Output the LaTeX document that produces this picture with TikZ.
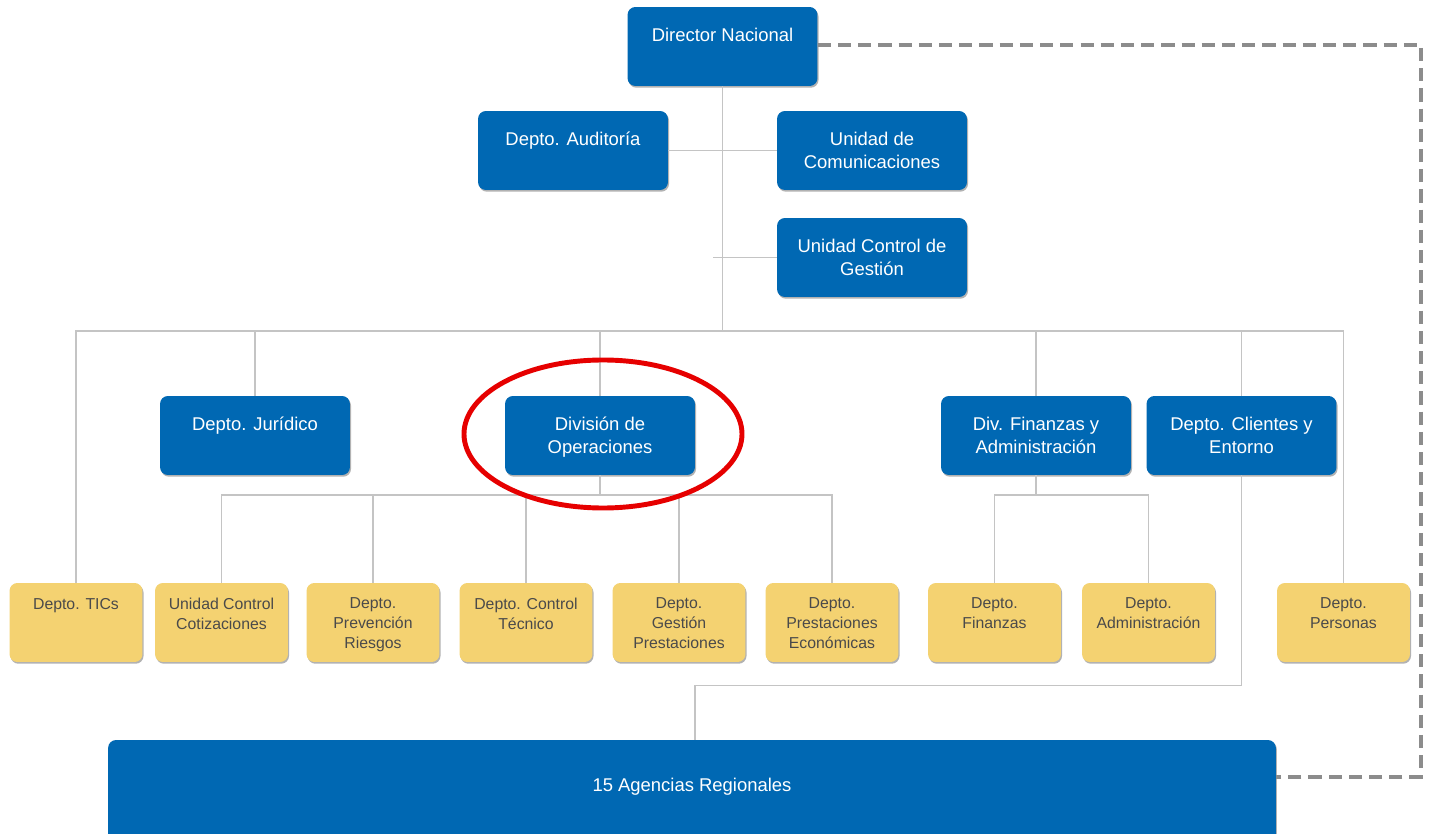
\documentclass[tikz,border=0pt]{standalone}
\usepackage{fontspec}
\setmainfont{Liberation Sans}
\usepackage{tikz}
\usetikzlibrary{shadows}
\definecolor{orgblue}{HTML}{0068B3}
\definecolor{orgyellow}{HTML}{F4D271}
\definecolor{orgink}{HTML}{4A4A4A}
\definecolor{orgline}{HTML}{C4C4C4}
\definecolor{orgdash}{HTML}{8C8C8C}
\definecolor{orgred}{HTML}{E60000}
\tikzset{
  orgshadow/.style={drop shadow={shadow xshift=0.6pt, shadow yshift=-1pt, fill=black, opacity=0.3}},
  bluebox/.style={rectangle, fill=orgblue, rounded corners=4.5pt, minimum width=3.8cm, minimum height=1.58cm, orgshadow},
  yellowbox/.style={rectangle, fill=orgyellow, rounded corners=4.5pt, minimum width=2.66cm, minimum height=1.58cm, orgshadow},
  bluetext/.style={anchor=north, inner sep=0pt, yshift=-0.42cm, align=center, text=white, font=\fontsize{10.5}{13}\selectfont},
  yellowtext/.style={anchor=north, inner sep=0pt, yshift=-0.30cm, align=center, text=orgink, font=\fontsize{9}{11.3}\selectfont},
  link/.style={draw=orgline, line width=0.8pt},
  dashlink/.style={draw=orgdash, line width=1.8pt, dash pattern=on 7.5pt off 4pt}
}

\begin{document}
\begin{tikzpicture}[x=0.02cm, y=-0.02cm]
  \clip (0,0) rectangle (1431,834);
  \fill[white] (0,0) rectangle (1431,834);

  % top level
  \node[bluebox, label={[bluetext]north:Director Nacional}] (dn) at (722.5,46.5) {};
  \node[bluebox, label={[bluetext]north:Depto. Auditoría}] (aud) at (573,150.5) {};
  \node[bluebox, label={[bluetext]north:Unidad de\\Comunicaciones}] (com) at (872,150.5) {};
  \node[bluebox, label={[bluetext]north:Unidad Control de\\Gestión}] (cg) at (872,257.5) {};

  % divisions
  \node[bluebox, label={[bluetext]north:Depto. Jurídico}] (jur) at (255,435.5) {};
  \node[bluebox, label={[bluetext]north:División de\\Operaciones}] (ops) at (600,435.5) {};
  \node[bluebox, label={[bluetext]north:Div. Finanzas y\\Administración}] (fin) at (1036,435.5) {};
  \node[bluebox, label={[bluetext]north:Depto. Clientes y\\Entorno}] (cli) at (1241.5,435.5) {};

  % departments
  \node[yellowbox, label={[yellowtext]north:Depto. TICs}] (tic) at (76,622.5) {};
  \node[yellowbox, label={[yellowtext]north:Unidad Control\\Cotizaciones}] (cot) at (221.5,622.5) {};
  \node[yellowbox, label={[yellowtext]north:Depto.\\Prevención\\Riesgos}] (prv) at (373,622.5) {};
  \node[yellowbox, label={[yellowtext]north:Depto. Control\\Técnico}] (tec) at (526,622.5) {};
  \node[yellowbox, label={[yellowtext]north:Depto.\\Gestión\\Prestaciones}] (ges) at (679,622.5) {};
  \node[yellowbox, label={[yellowtext]north:Depto.\\Prestaciones\\Económicas}] (eco) at (832,622.5) {};
  \node[yellowbox, label={[yellowtext]north:Depto.\\Finanzas}] (fnz) at (994.5,622.5) {};
  \node[yellowbox, label={[yellowtext]north:Depto.\\Administración}] (adm) at (1148.5,622.5) {};
  \node[yellowbox, label={[yellowtext]north:Depto.\\Personas}] (per) at (1343.5,622.5) {};

  % regional agencies
  \node[rectangle, fill=orgblue, rounded corners=4.5pt, minimum width=23.36cm, minimum height=2.2cm, orgshadow] (ag) at (692,795) {};
  \node[text=white, font=\fontsize{10.5}{13}\selectfont] (agt) at (692,787) {15 Agencias Regionales};

  % connectors
  \coordinate (mainbus) at (0,331);
  \coordinate (opsbus) at (0,495);
  \coordinate (dc1) at (1421,45);
  \coordinate (dc2) at (1421,777);
  \path[link] (dn.south) -- (dn.south |- mainbus);
  \path[link] (aud.east) -- (com.west);
  \path[link] (cg.west) -- ++(-64,0);
  \path[link] (tic.north) -- (tic.north |- mainbus) -| (per.north);
  \path[link] (jur.north) -- (jur.north |- mainbus);
  \path[link] (ops.north) -- (ops.north |- mainbus);
  \path[link] (fin.north) -- (fin.north |- mainbus);
  \path[link] (cli.north) -- (cli.north |- mainbus);
  \path[link] (ops.south) -- (ops.south |- opsbus);
  \path[link] (cot.north) -- (cot.north |- opsbus) -| (eco.north);
  \path[link] (prv.north) -- (prv.north |- opsbus);
  \path[link] (tec.north) -- (tec.north |- opsbus);
  \path[link] (ges.north) -- (ges.north |- opsbus);
  \path[link] (fin.south) -- (fin.south |- opsbus);
  \path[link] (fnz.north) -- (fnz.north |- opsbus) -| (adm.north);
  \path[link] (cli.south) -- ++(0,210) -| ([xshift=0.06cm]ag.north);
  \path[dashlink] (dn.east |- dc1) -- (dc1) -- (dc2) -- (ag.east |- dc2);

  % highlight
  \draw[orgred, line width=2.8pt] (603,434) ellipse [x radius=139, y radius=74];
\end{tikzpicture}
\end{document}
